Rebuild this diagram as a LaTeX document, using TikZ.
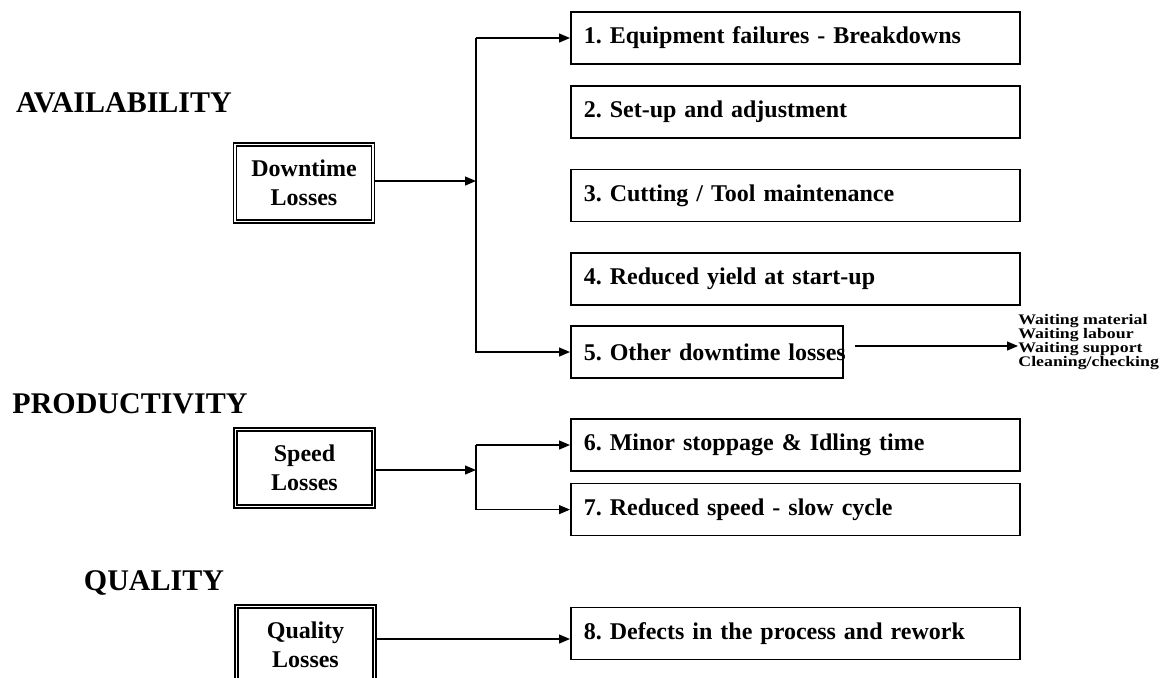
\documentclass[tikz,border=0pt]{standalone}
\usepackage{fontspec}
\setmainfont{Liberation Serif}
\newfontfamily\listfont[FakeStretch=1.22]{Liberation Serif}
\usetikzlibrary{arrows.meta, positioning, calc}
\frenchspacing

\begin{document}
\begin{tikzpicture}[
    x=0.5pt, y=-0.5pt,
    % heading style
    heading/.style={font=\fontsize{15}{18}\selectfont\bfseries, inner sep=0pt, anchor=base},
    % group box (double border)
    groupbox/.style={
        rectangle, draw=black, double, double distance=0.8pt, line width=0.7pt,
        minimum width=69pt, minimum height=38.5pt,
        align=center, font=\fontsize{12}{14.5}\selectfont\bfseries
    },
    % loss box
    lossbox/.style={
        rectangle, draw=black, line width=0.8pt,
        minimum height=26pt, text width=211.5pt, inner xsep=6.5pt, inner ysep=0pt,
        align=left, anchor=west, font=\fontsize{12}{14}\selectfont\bfseries
    },
    % detail list
    waitlist/.style={align=left, anchor=west, inner xsep=5.5pt, inner ysep=0pt,
        font={\listfont\fontsize{7.3}{7.1}\selectfont\bfseries\lineskiplimit=-5pt}},
    % arrow style
    arrow/.style={-{Triangle[length=5.5pt, width=4.5pt]}, line width=0.6pt},
]

\useasboundingbox (0,0) rectangle (1173,677);
\clip (0,0) rectangle (1173,677);

% ==================== Headings ====================
\node[heading] (avail) at (124,112) {AVAILABILITY};
\node[heading] (prod) at (130,413) {PRODUCTIVITY};
\node[heading] (qualh) at (154,590) {QUALITY};

% ==================== Group boxes ====================
\node[groupbox] (down) at (304,183) {Downtime\\Losses};
\node[groupbox] (speed) at (304.5,468) {Speed\\Losses};
\node[groupbox] (qual) at (305.5,645) {Quality\\Losses};

% ==================== Loss boxes ====================
\node[lossbox] (b1) at (570,38) {1. Equipment failures - Breakdowns};
\node[lossbox] (b2) at (570,112) {2. Set-up and adjustment};
\node[lossbox] (b3) at (570,195.5) {3. Cutting / Tool maintenance};
\node[lossbox] (b4) at (570,279) {4. Reduced yield at start-up};
\node[lossbox, text width=123pt] (b5) at (570,352) {\mbox{5. Other downtime losses}};

\node[lossbox] (b6) at (570,445) {6. Minor stoppage \& Idling time};
\node[lossbox, below=5.5pt of b6.south west, anchor=north west] (b7) {7. Reduced speed - slow cycle};

\node[lossbox] (b8) at (570,633.5) {8. Defects in the process and rework};

\node[waitlist] (wait) at (1007,342) {Waiting material\\Waiting labour\\Waiting support\\Cleaning/checking};

% ==================== Connectors ====================
\coordinate (dbus) at (476,181);
\coordinate (sbus) at (476,470);

% Downtime
\draw[arrow] (down.east |- dbus) -- (dbus);
\draw[arrow] (b1.west -| dbus) -- (b1.west);
\draw[arrow] (b1.west -| dbus) -- (b5.west -| dbus) -- (b5.west);
\draw[arrow] ([xshift=5.5pt, yshift=3pt]b5.east) -- ([xshift=5.5pt, yshift=3pt]b5.east -| wait.west);

% Speed
\draw[arrow] (speed.east |- sbus) -- (sbus);
\draw[arrow] (b6.west -| sbus) -- (b6.west);
\draw[arrow] (b6.west -| sbus) -- (b7.west -| sbus) -- (b7.west);

% Quality
\draw[arrow] (qual.east |- 0,639) -- (b8.west |- 0,639);

\end{tikzpicture}
\end{document}
